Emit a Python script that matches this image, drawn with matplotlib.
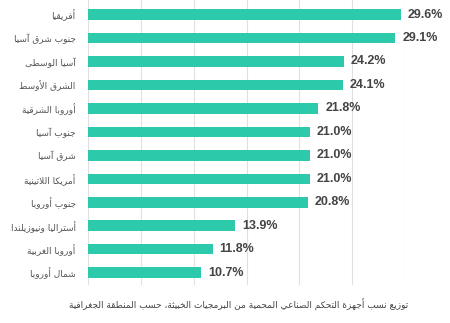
import matplotlib
matplotlib.use('Agg')
import matplotlib.pyplot as plt

# regions (Arabic) and share of ICS computers attacked, top to bottom
regions = ['أفريقيا', 'جنوب شرق آسيا', 'آسيا الوسطى', 'الشرق الأوسط',
           'أوروبا الشرقية', 'جنوب آسيا', 'شرق آسيا', 'أمريكا اللاتينية',
           'جنوب أوروبا', 'أستراليا ونيوزيلندا', 'أوروبا الغربية', 'شمال أوروبا']
values = [29.6, 29.1, 24.2, 24.1, 21.8, 21.0, 21.0, 21.0, 20.8, 13.9, 11.8, 10.7]
caption = 'توزيع نسب أجهزة التحكم الصناعي المحمية من البرمجيات الخبيثة، حسب المنطقة الجغرافية'

# matplotlib has no arabic shaping, so pick the contextual forms by hand
# (iso, fin, ini, med) from the presentation forms-B block
DUAL = {}
RIGHT = {}
for ch, base in [('ئ', 0xFE89), ('ب', 0xFE8F), ('ت', 0xFE95), ('ث', 0xFE99),
                 ('ج', 0xFE9D), ('ح', 0xFEA1), ('خ', 0xFEA5), ('س', 0xFEB1),
                 ('ش', 0xFEB5), ('ص', 0xFEB9), ('ض', 0xFEBD), ('ط', 0xFEC1),
                 ('ظ', 0xFEC5), ('ع', 0xFEC9), ('غ', 0xFECD), ('ف', 0xFED1),
                 ('ق', 0xFED5), ('ك', 0xFED9), ('ل', 0xFEDD), ('م', 0xFEE1),
                 ('ن', 0xFEE5), ('ه', 0xFEE9), ('ي', 0xFEF1)]:
    DUAL[ch] = base
for ch, base in [('آ', 0xFE81), ('أ', 0xFE83), ('ؤ', 0xFE85), ('إ', 0xFE87),
                 ('ا', 0xFE8D), ('ة', 0xFE93), ('د', 0xFEA9), ('ذ', 0xFEAB),
                 ('ر', 0xFEAD), ('ز', 0xFEAF), ('و', 0xFEED), ('ى', 0xFEEF),
                 ('ء', 0xFE80)]:
    RIGHT[ch] = base
LAMALEF = {'آ': 0xFEF5, 'أ': 0xFEF7, 'إ': 0xFEF9, 'ا': 0xFEFB}


def shape(text):
    # merge lam + alef first
    chars = []
    i = 0
    while i < len(text):
        if text[i] == 'ل' and i + 1 < len(text) and text[i + 1] in LAMALEF:
            chars.append(('LA', LAMALEF[text[i + 1]]))
            i += 2
        else:
            chars.append((text[i], None))
            i += 1

    def is_letter(c):
        return c[0] in DUAL or c[0] in RIGHT or c[0] == 'LA'

    def joins_left(c):
        return c[0] in DUAL

    out = []
    for k, c in enumerate(chars):
        prev_j = k > 0 and joins_left(chars[k - 1])
        next_j = k + 1 < len(chars) and is_letter(chars[k + 1])
        if c[0] == 'LA':
            out.append(chr(c[1] + (1 if prev_j else 0)))
        elif c[0] == 'ء':
            out.append(chr(0xFE80))
        elif c[0] in RIGHT:
            out.append(chr(RIGHT[c[0]] + (1 if prev_j else 0)))
        elif c[0] in DUAL:
            if prev_j and next_j:
                off = 3
            elif next_j:
                off = 2
            elif prev_j:
                off = 1
            else:
                off = 0
            out.append(chr(DUAL[c[0]] + off))
        else:
            out.append(c[0])
    return ''.join(out)[::-1]


fig = plt.figure(figsize=(4.5, 3.23), dpi=100)
ax = fig.add_axes([0.196, 0.118, 0.704, 0.882])

y = list(range(len(regions)))
ax.barh(y, values, height=0.45, color='#2ccaab', zorder=2)

for yi, v in zip(y, values):
    ax.text(v + 0.65, yi, f'{v:.1f}%', va='center', ha='left',
            fontsize=9, fontweight='bold', color='#444444',
            family='Liberation Sans', clip_on=False)

ax.set_xlim(0, 30)
ax.set_ylim(11.52, -0.62)
ax.set_xticks([0, 5, 10, 15, 20, 25, 30])
ax.set_xticklabels([])
ax.set_yticks(y)
ax.set_yticklabels([shape(r) for r in regions], fontsize=6.5, color='#555555',
                   family='DejaVu Sans')
ax.tick_params(axis='both', length=0)
ax.tick_params(axis='y', pad=9)
ax.grid(axis='x', color='#e0e0e0', linewidth=0.8, zorder=0)
for s in ax.spines.values():
    s.set_visible(False)

fig.text(0.53, 0.056, shape(caption), ha='center', va='center',
         fontsize=6.5, color='#444444', family='DejaVu Sans')

fig.savefig('out.png', dpi=100)
